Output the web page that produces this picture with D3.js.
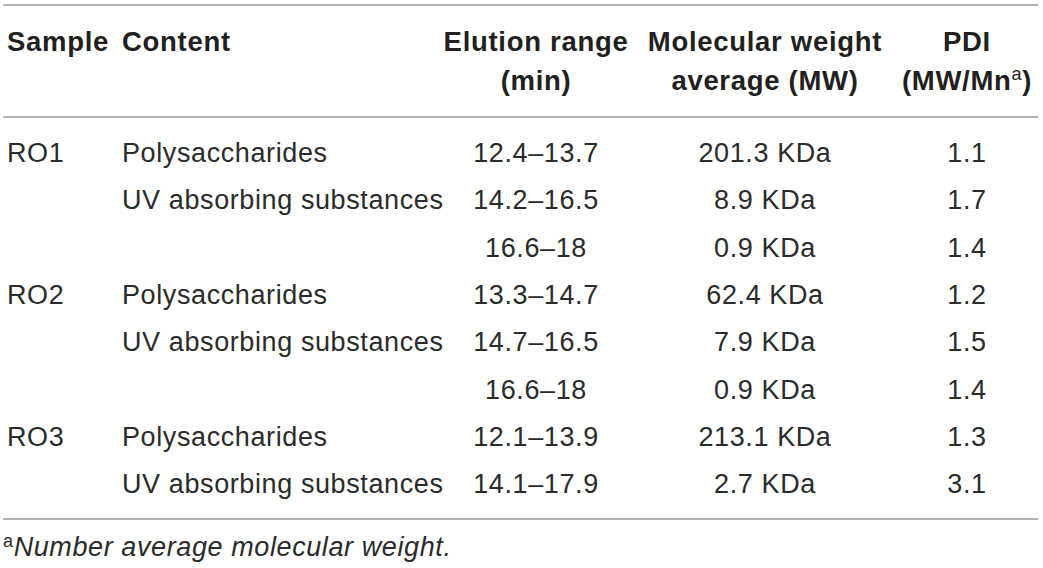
<!DOCTYPE html>
<html>
<head>
<meta charset="utf-8">
<script src="https://cdn.jsdelivr.net/npm/d3@7"></script>
<style>
  html, body { margin: 0; padding: 0; background: #ffffff; }
  svg { display: block; }
</style>
</head>
<body>
<script>
// ---- data ----
const headers = [
  ["Sample", ""],
  ["Content", ""],
  ["Elution range", "(min)"],
  ["Molecular weight", "average (MW)"],
  ["PDI", "(MW/Mn", "a", ")"]
];
const samples  = ["RO1", "", "", "RO2", "", "", "RO3", ""];
const contents = ["Polysaccharides", "UV absorbing substances", "",
                  "Polysaccharides", "UV absorbing substances", "",
                  "Polysaccharides", "UV absorbing substances"];
const elution  = ["12.4–13.7", "14.2–16.5", "16.6–18", "13.3–14.7", "14.7–16.5", "16.6–18", "12.1–13.9", "14.1–17.9"];
const mw       = ["201.3 KDa", "8.9 KDa", "0.9 KDa", "62.4 KDa", "7.9 KDa", "0.9 KDa", "213.1 KDa", "2.7 KDa"];
const pdi      = ["1.1", "1.7", "1.4", "1.2", "1.5", "1.4", "1.3", "3.1"];
const footnote = ["a", "Number average molecular weight."];

const W = 1043, H = 568;
const FONT = "'Liberation Sans', Arial, Helvetica, sans-serif";
const TEXT = "#231f20";
const BODY = "#2b2b2b";
const RULE = "#9a9a9a";

const svg = d3.select("body").append("svg").attr("width", W).attr("height", H);

// rows
const rowIdx = d3.range(samples.length);
const y = d3.scaleBand().domain(rowIdx).range([138, 138 + 8 * 47.3]).paddingInner(0);
const base = i => y(i) + y.bandwidth() / 2 + 0.5;

// columns
const colNames = ["sample", "content", "elution", "mw", "pdi"];
const x = d3.scaleOrdinal().domain(colNames).range([7, 122, 536, 765, 967]);
const anchors = ["start", "start", "middle", "middle", "middle"];

// rules
[5, 117, 519].forEach(yy => {
  svg.append("line").attr("x1", 3).attr("x2", 1038).attr("y1", yy).attr("y2", yy)
    .attr("stroke", RULE).attr("stroke-width", 1.6);
});

// header
const hg = svg.append("g").attr("font-family", FONT).attr("font-weight", "bold")
  .attr("font-size", 27.5).attr("letter-spacing", 0.7).attr("fill", TEXT);
headers.forEach((h, c) => {
  const hx = x(colNames[c]);
  hg.append("text").attr("x", hx).attr("y", 51).attr("text-anchor", anchors[c]).text(h[0]);
  if (h[1]) {
    const t = hg.append("text").attr("x", hx).attr("y", 90).attr("text-anchor", anchors[c]);
    t.append("tspan").text(h[1]);
    if (h[2]) {
      t.append("tspan").attr("dy", -10).attr("font-size", 18).attr("font-weight", "normal").text(h[2]);
      t.append("tspan").attr("dy", 10).text(h[3]);
    }
  }
});

// body
const bg = svg.append("g").attr("font-family", FONT).attr("font-size", 27)
  .attr("letter-spacing", 0.6).attr("fill", BODY);
const colData = [samples, contents, elution, mw, pdi];
colData.forEach((data, c) => {
  bg.selectAll(null).data(rowIdx).enter().append("text")
    .attr("x", x(colNames[c])).attr("y", i => base(i)).attr("text-anchor", anchors[c])
    .text(i => data[i]);
});

// footnote
const ft = svg.append("text").attr("x", 3).attr("y", 556).attr("font-family", FONT)
  .attr("font-size", 27).attr("letter-spacing", 0.6).attr("fill", BODY);
ft.append("tspan").attr("dy", -9).attr("font-size", 18).text(footnote[0]);
ft.append("tspan").attr("dy", 9).attr("font-style", "italic").text(footnote[1]);
</script>
</body>
</html>
